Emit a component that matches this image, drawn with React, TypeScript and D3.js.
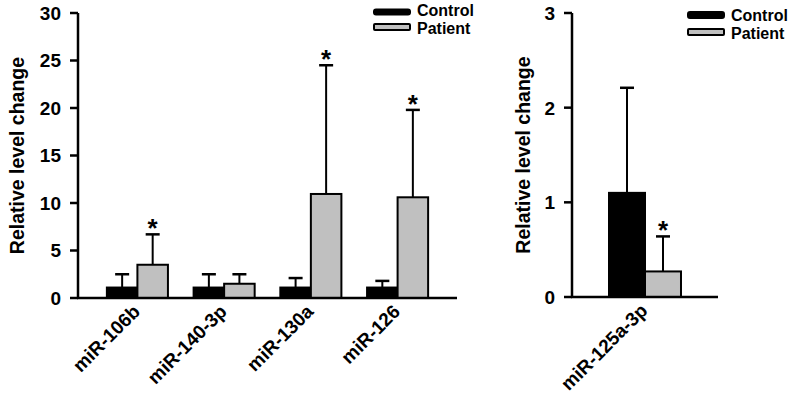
import React from "react";
import * as d3 from "d3";

const categoriesLeft = ["miR-106b", "miR-140-3p", "miR-130a", "miR-126"];
const controlLeft = [1.1, 1.1, 1.1, 1.1];
const controlLeftSD = [1.4, 1.4, 1.0, 0.7];
const patientLeft = [3.5, 1.5, 10.95, 10.6];
const patientLeftSD = [3.2, 1.0, 13.55, 9.2];
const patientLeftSig = [true, false, true, true];
const leftTicks = [0, 5, 10, 15, 20, 25, 30];

const categoriesRight = ["miR-125a-3p"];
const controlRight = [1.1];
const controlRightSD = [1.11];
const patientRight = [0.27];
const patientRightSD = [0.37];
const patientRightSig = [true];
const rightTicks = [0, 1, 2, 3];

const seriesNames = ["Control", "Patient"];
const seriesColors = ["#000000", "#c0c0c0"];

const FONT = "'Liberation Sans', Arial, Helvetica, sans-serif";

type PanelProps = {
  cats: string[];
  ctrl: number[];
  ctrlSD: number[];
  pat: number[];
  patSD: number[];
  sig: boolean[];
  ticks: number[];
  yMax: number;
  x0: number;
  x1: number;
  yTop: number;
  yBottom: number;
  paddingInner: number;
  paddingOuter: number;
  labelX: number;
  tickFont: number;
  legendX: number;
  legendY: number[];
  legendH: number[];
  legendBase: number[];
};

function Panel(p: PanelProps) {
  const y = d3.scaleLinear().domain([0, p.yMax]).range([p.yBottom, p.yTop]);
  const xb = d3
    .scaleBand<string>()
    .domain(p.cats)
    .range([p.x0, p.x1])
    .paddingInner(p.paddingInner)
    .paddingOuter(p.paddingOuter);
  const xs = d3
    .scaleBand<string>()
    .domain(seriesNames)
    .range([0, xb.bandwidth()]);
  const bw = xs.bandwidth();
  const capW = 14;
  const bars: JSX.Element[] = [];
  p.cats.forEach((c, i) => {
    const data = [
      { v: p.ctrl[i], sd: p.ctrlSD[i], s: 0, sig: false },
      { v: p.pat[i], sd: p.patSD[i], s: 1, sig: p.sig[i] },
    ];
    data.forEach((d) => {
      const bx = (xb(c) as number) + (xs(seriesNames[d.s]) as number);
      const cx = bx + bw / 2;
      const top = y(d.v);
      const et = y(d.v + d.sd);
      bars.push(
        <g key={c + d.s}>
          <line x1={cx} x2={cx} y1={top} y2={et} stroke="#000" strokeWidth={2} />
          <line x1={cx - capW / 2} x2={cx + capW / 2} y1={et} y2={et} stroke="#000" strokeWidth={2.5} />
          <rect
            x={bx}
            y={top}
            width={bw}
            height={y(0) - top}
            fill={seriesColors[d.s]}
            stroke="#000"
            strokeWidth={2}
          />
          {d.sig && (
            <text x={cx} y={et + 3} textAnchor="middle" fontSize={26} fontWeight="bold" fontFamily={FONT}>
              *
            </text>
          )}
        </g>
      );
    });
  });
  return (
    <g>
      {bars}
      <line x1={p.x0} x2={p.x0} y1={p.yTop} y2={p.yBottom} stroke="#000" strokeWidth={2.5} />
      <line x1={p.x0 - 1} x2={p.x1} y1={p.yBottom} y2={p.yBottom} stroke="#000" strokeWidth={2.5} />
      {p.ticks.map((t) => (
        <g key={t}>
          <line x1={p.x0 - 8} x2={p.x0} y1={y(t)} y2={y(t)} stroke="#000" strokeWidth={2.5} />
          <text
            x={p.x0 - 17}
            y={y(t)}
            dy="0.36em"
            textAnchor="end"
            fontSize={p.tickFont}
            fontWeight="bold"
            fontFamily={FONT}
          >
            {t}
          </text>
        </g>
      ))}
      {p.cats.map((c) => {
        const cx = (xb(c) as number) + xb.bandwidth() / 2 - 3;
        const cy = p.yBottom + 8;
        return (
          <text
            key={c}
            transform={`translate(${cx},${cy}) rotate(-45)`}
            textAnchor="end"
            dy="0.5em"
            fontSize={19}
            fontWeight="bold"
            fontFamily={FONT}
          >
            {c}
          </text>
        );
      })}
      <text
        transform={`translate(${p.labelX},${(p.yTop + p.yBottom) / 2}) rotate(-90)`}
        textAnchor="middle"
        dy="0.35em"
        fontSize={19.5}
        fontWeight="bold"
        fontFamily={FONT}
      >
        Relative level change
      </text>
      {seriesNames.map((s, i) => (
        <g key={s}>
          <rect
            x={p.legendX}
            y={p.legendY[i]}
            width={36}
            height={p.legendH[i]}
            rx={i === 0 ? 2 : 1}
            fill={seriesColors[i]}
            stroke="#000"
            strokeWidth={2}
          />
          <text
            x={p.legendX + 43}
            y={p.legendBase[i]}
            fontSize={16}
            fontWeight="bold"
            fontFamily={FONT}
          >
            {s}
          </text>
        </g>
      ))}
    </g>
  );
}

export default function App() {
  return (
    <svg
      width={788}
      height={400}
      style={{ position: "absolute", left: 0, top: 0, background: "#fff" }}
    >
      <rect x={0} y={0} width={788} height={400} fill="#fff" />
      <Panel
        cats={categoriesLeft}
        ctrl={controlLeft}
        ctrlSD={controlLeftSD}
        pat={patientLeft}
        patSD={patientLeftSD}
        sig={patientLeftSig}
        ticks={leftTicks}
        yMax={30}
        x0={78}
        x1={457}
        yTop={13}
        yBottom={298}
        paddingInner={0.296}
        paddingOuter={0.333}
        labelX={17}
        tickFont={19}
        legendX={374}
        legendY={[9.5, 24]}
        legendH={[5, 6]}
        legendBase={[16, 34]}
      />
      <Panel
        cats={categoriesRight}
        ctrl={controlRight}
        ctrlSD={controlRightSD}
        pat={patientRight}
        patSD={patientRightSD}
        sig={patientRightSig}
        ticks={rightTicks}
        yMax={3}
        x0={572}
        x1={718}
        yTop={13}
        yBottom={297}
        paddingInner={0}
        paddingOuter={0.514}
        labelX={523}
        tickFont={19}
        legendX={688}
        legendY={[12, 29]}
        legendH={[6, 6]}
        legendBase={[21, 39]}
      />
    </svg>
  );
}
